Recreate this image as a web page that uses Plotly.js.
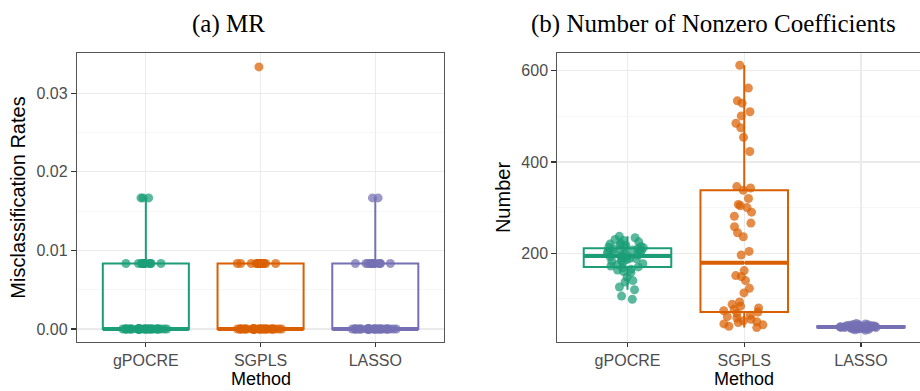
<!DOCTYPE html>
<html>
<head>
<meta charset="utf-8">
<script src="https://cdn.plot.ly/plotly-3.0.1.min.js"></script>
<style>
html, body { margin:0; padding:0; overflow:hidden; background:#fff; }
#chart { width:940px; height:391px; }
</style>
</head>
<body>
<div id="chart"></div>
<script>
const methods = ['gPOCRE', 'SGPLS', 'LASSO'];
const colors = ['#1B9E77', '#D95F02', '#7570B3'];

// (a) Misclassification rates (50 replicates each)
const mrGPOCRE = [0,0,0,0,0,0,0,0,0,0,0,0,0,0,0,0,0,0,0,0,0,0,0,0,0,0,0,0,0,0,0,0,0,0,
  0.00833,0.00833,0.00833,0.00833,0.00833,0.00833,0.00833,0.00833,0.00833,0.00833,0.00833,0.00833,0.00833,
  0.01667,0.01667,0.01667];
const mrSGPLS = [0,0,0,0,0,0,0,0,0,0,0,0,0,0,0,0,0,0,0,0,0,0,0,0,0,0,0,0,0,0,0,0,0,0,
  0.00833,0.00833,0.00833,0.00833,0.00833,0.00833,0.00833,0.00833,0.00833,0.00833,0.00833,0.00833,0.00833,0.00833,0.00833,
  0.03333];
const mrLASSO = [0,0,0,0,0,0,0,0,0,0,0,0,0,0,0,0,0,0,0,0,0,0,0,0,0,0,0,0,0,0,0,0,0,0,
  0.00833,0.00833,0.00833,0.00833,0.00833,0.00833,0.00833,0.00833,0.00833,0.00833,0.00833,0.00833,0.00833,0.00833,
  0.01667,0.01667];

// (b) Number of nonzero coefficients (50 replicates each)
const nzGPOCRE = [99,106,120,126,137,140,148,158,160,163,165,168,170,172,175,177,180,182,184,186,188,189,191,192,193,
  195,196,198,200,201,203,204,205,207,208,209,210,211,212,213,215,217,218,220,222,225,228,230,234,237];
const nzSGPLS = [37,40,43,45,48,50,52,55,58,61,64,68,71,74,77,80,84,88,93,
  113,123,140,149,151,162,196,204,
  236,245,258,266,281,290,300,304,307,320,338,343,346,
  423,454,475,485,501,510,529,534,562,612];
const nzLASSO = [31,32,33,34,34,35,35,35,36,36,36,36,37,37,37,37,37,38,38,38,38,38,38,38,38,
  39,39,39,39,39,39,39,40,40,40,40,40,40,41,41,41,41,42,42,42,43,43,44,45,46];

const mrData = [mrGPOCRE, mrSGPLS, mrLASSO];
const nzData = [nzGPOCRE, nzSGPLS, nzLASSO];

function hexA(hex, a) {
  const n = parseInt(hex.slice(1), 16);
  return 'rgba(' + ((n >> 16) & 255) + ',' + ((n >> 8) & 255) + ',' + (n & 255) + ',' + a + ')';
}
function median(arr) {
  const s = arr.slice().sort((a, b) => a - b);
  const h = (s.length - 1) / 2;
  return (s[Math.floor(h)] + s[Math.ceil(h)]) / 2;
}

const BOXW = 0.75;
const traces = [];
const shapes = [];
function addBoxes(data, xa, ya) {
  data.forEach((vals, i) => {
    traces.push({
      type: 'box',
      y: vals,
      x0: methods[i],
      name: methods[i],
      xaxis: xa, yaxis: ya,
      width: BOXW,
      boxpoints: 'all',
      jitter: 0.55,
      pointpos: 0,
      whiskerwidth: 0,
      line: { color: colors[i], width: 2 },
      fillcolor: 'rgba(0,0,0,0)',
      marker: { color: hexA(colors[i], 0.72), size: 9, line: { width: 0 } },
      showlegend: false,
      hoverinfo: 'y'
    });
    // thicker median bar (ggplot-style fatten)
    const m = median(vals);
    shapes.push({
      type: 'line', xref: xa, yref: ya, layer: 'below',
      x0: i - BOXW / 2, x1: i + BOXW / 2, y0: m, y1: m,
      line: { color: colors[i], width: 4 }
    });
  });
}
addBoxes(mrData, 'x', 'y');
addBoxes(nzData, 'x2', 'y2');

const tickFont = { family: 'Liberation Sans, Arial, sans-serif', size: 16, color: '#4D4D4D' };
const titleFont = { family: 'Liberation Sans, Arial, sans-serif', size: 20, color: '#000' };
const xTitleFont = { family: 'Liberation Sans, Arial, sans-serif', size: 18, color: '#000' };

function xAxis(domain, anchor) {
  return {
    domain: domain, anchor: anchor,
    type: 'category', categoryorder: 'array', categoryarray: methods,
    range: [-0.6, 2.6],
    showline: true, mirror: true, linecolor: '#555', linewidth: 1.2,
    ticks: 'outside', ticklen: 4, tickwidth: 1.2, tickcolor: '#333',
    tickfont: tickFont,
    showgrid: true, gridcolor: '#EBEBEB', gridwidth: 1.2,
    zeroline: false
  };
}

const M_T = 53, M_B = 49, H = 391;
const PLOT_H = H - M_T - M_B;
const methodY = -M_B / PLOT_H;

const layout = {
  width: 940, height: H,
  margin: { l: 77, r: 9.3, t: M_T, b: M_B },
  paper_bgcolor: '#fff', plot_bgcolor: '#fff',
  boxmode: 'overlay',
  showlegend: false,
  xaxis: xAxis([0, 0.4299], 'y'),
  xaxis2: xAxis([0.5626, 1], 'y2'),
  yaxis: {
    domain: [0, 1], anchor: 'x',
    range: [-0.00165, 0.0351],
    tick0: 0, dtick: 0.01, tickformat: '.2f',
    showline: true, mirror: true, linecolor: '#555', linewidth: 1.2,
    ticks: 'outside', ticklen: 5, tickwidth: 1.2, tickcolor: '#333',
    tickfont: tickFont,
    showgrid: true, gridcolor: '#EBEBEB', gridwidth: 1.2,
    minor: { dtick: 0.005, showgrid: true, gridcolor: '#F4F4F4', gridwidth: 0.8, ticks: '' },
    zeroline: false,
    title: { text: 'Misclassification Rates', font: titleFont, standoff: 5 }
  },
  yaxis2: {
    domain: [0, 1], anchor: 'x2',
    range: [5.4, 638.9],
    tick0: 0, dtick: 200,
    showline: true, mirror: true, linecolor: '#555', linewidth: 1.2,
    ticks: 'outside', ticklen: 5, tickwidth: 1.2, tickcolor: '#333',
    tickfont: tickFont,
    showgrid: true, gridcolor: '#EBEBEB', gridwidth: 1.2,
    minor: { dtick: 100, showgrid: true, gridcolor: '#F4F4F4', gridwidth: 0.8, ticks: '' },
    zeroline: false,
    title: { text: 'Number', font: titleFont, standoff: 5 }
  },
  shapes: shapes,
  annotations: [
    { text: '(a) MR', xref: 'paper', yref: 'paper', x: 0.1769, y: 1 + (M_T - 24) / PLOT_H,
      xanchor: 'center', yanchor: 'middle', showarrow: false,
      font: { family: 'Liberation Serif, Times New Roman, serif', size: 25, color: '#000' } },
    { text: '(b) Number of Nonzero Coefficients', xref: 'paper', yref: 'paper', x: 0.745, y: 1 + (M_T - 24) / PLOT_H,
      xanchor: 'center', yanchor: 'middle', showarrow: false,
      font: { family: 'Liberation Serif, Times New Roman, serif', size: 25, color: '#000' } },
    { text: 'Method', xref: 'x domain', yref: 'paper', x: 0.5, y: methodY,
      xanchor: 'center', yanchor: 'bottom', showarrow: false, font: xTitleFont },
    { text: 'Method', xref: 'x2 domain', yref: 'paper', x: 0.5, y: methodY,
      xanchor: 'center', yanchor: 'bottom', showarrow: false, font: xTitleFont }
  ]
};

Plotly.newPlot('chart', traces, layout, { displayModeBar: false, staticPlot: true, responsive: false });
</script>
</body>
</html>
